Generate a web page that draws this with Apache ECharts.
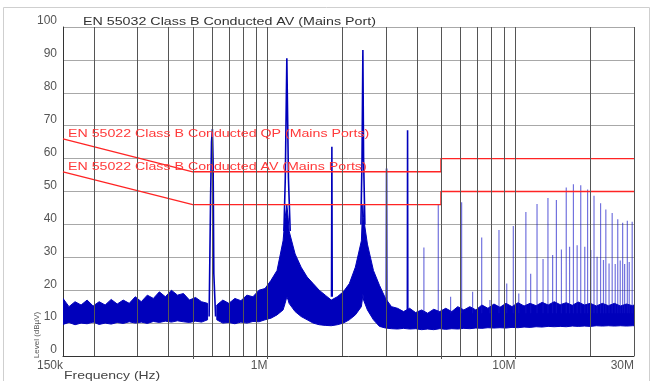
<!DOCTYPE html>
<html><head><meta charset="utf-8">
<script src="https://cdn.jsdelivr.net/npm/echarts@6/dist/echarts.min.js"></script>
<style>html,body{margin:0;padding:0;background:#fff}#c{width:656px;height:381px}</style>
</head><body><div id="c"></div>
<script>
// ---- tick labels ----
const xTickValues = [150000, 1000000, 10000000, 30000000];
const xTickTexts  = ['150k', '1M', '10M', '30M'];
const xMajorTicks = [500000, 1000000, 5000000, 10000000];
const gridFreqs = [200000,300000,400000,500000,600000,700000,800000,900000,1000000,
  2000000,3000000,4000000,5000000,6000000,7000000,8000000,9000000,10000000,20000000,30000000];

// ---- limit lines ----
const qpFreq  = [150000, 500000, 5000000, 5000000, 30000000];
const qpLevel = [66, 56, 56, 60, 60];
const avFreq  = [150000, 500000, 5000000, 5000000, 30000000];
const avLevel = [56, 46, 46, 50, 50];

// ---- noise floor envelope (Hz, dBuV) ----
const bandFreq1 = [150000,158600,167700,177400,187600,198400,209800,221800,234600,248100,262300,277400,
  293300,310200,328000,346900,366800,387900,410200,433800,458700,485100,513000,542500,573700];
const bandLow1  = [9.6,10.2,9.5,10,9.8,10.3,9.6,10,9.7,10.2,9.9,10.4,10,10.3,9.9,10.5,10.2,10.6,10.3,10.7,10.4,10.2,10.6,10.3,11];
const bandHigh1 = [17.5,15,16.5,15.5,17,15.2,16.5,15.5,17.2,15.8,17,16,18,16.5,18.5,17.5,19.5,18,20,18.5,19,17,17.8,16.5,16];
const bandFreq2 = [625000,660900,698900,739100,781600,826500,874000,924300,977400,1033600,1093000,1155900,
  1178000,1197000,1212000,
  1222300,1292600,1366900,1445500,1528600,1616500,1709500,1807800,1911700,2021600,2137900,2260800,2390800,
  2410000,2424000,2440000,
  2528300,2673700,2827400,2990000,3161900,3343700,3536000,3739300,3954300,4181700,4422100,4676400,4945300,
  5229700,5530400,5848400,6184700,6540300,6916400,7314100,7734600,8179400,8649700,9147100,9673000,10229200,
  10817400,11439400,12097100,12792700,13528300,14306200,15128800,15998700,16918600,17891500,18920200,20008100,
  21158600,22375200,23661800,25022400,26461200,27982700,29591700,30000000];
const bandLow2  = [11,10,10.2,9.8,10.3,10,10.5,10.4,11,11.5,12.5,14,
  16,18,17,
  16,13.5,12,11,10,9.5,9.3,9.2,9.5,10,11,12.5,15,
  17,19,17,
  14,11,9,8.5,8.3,8.2,8.4,8.2,8.3,8,8.2,8,8.3,
  8.1,8.3,8.2,8.4,8.3,8.5,8.4,8.6,8.5,8.6,8.5,8.7,8.6,
  8.8,8.7,8.9,8.8,9,8.9,9,8.9,9.1,9,9.1,9,
  9.2,9.1,9.2,9.1,9.2,9.1,9.2,9.2];
const bandHigh2 = [15.5,17,16,17.5,16.8,18.5,18,20,20.5,23,26,35,
  42,46,42,
  38,31,27,24,22,20,18.5,17,18,19.5,22,27,35,
  42,46,42,
  34,26,21.5,17.5,15,14.5,13.5,14.5,13.2,14,13,14.2,13.5,
  14.5,13.5,15,14,15,14,15.5,14.5,15.8,14.8,16,15,16.2,
  15.2,16,15.3,16.3,15.5,16.5,15.6,16.2,15.4,16.4,15.5,16,
  15.2,16,15.3,16,15.2,15.8,15.3,15.5];

// ---- strong emission peaks (shape points, null = break) ----
const peakShapeFreq  = [582000,590000,595000,600000,604000,608000,618000,618000,
  1165000,1180000,1197000,1215000,1235000,1235000,
  1812000,1818000,1824000,1824000,
  2380000,2405000,2424000,2440000,2470000,2470000,
  3012000,3020000,3028000,3028000,
  3662000,3670000,3678000];
const peakShapeLevel = [12,48,65,69,59,25,12,null,
  38,54,90.5,54,38,null,
  18,63.6,18,null,
  40,60,93,60,40,null,
  15,57,15,null,
  14,68.6,14];

// ---- harmonic spikes above 4 MHz ----
const spikeFreq = [4270000,4880000,5470000,6060000,6710000,7300000,7880000,8570000,9210000,9790000,
  10300000,11000000,11500000,12200000,12900000,13500000,14100000,14600000,15300000,16000000,
  16500000,17100000,17700000,18300000,19000000,19500000,20100000,20700000,21300000,22000000,
  22600000,23100000,23800000,24500000,25200000,25800000,26400000,27000000,27500000,28200000,
  28700000,29500000];
const spikeLevel = [33,46,18,46.7,19.5,36,17,38.3,22,39.5,
  19,43.8,25,46.2,29.5,48,30.7,47.4,32.4,51.2,
  33.2,52.2,33.7,51.9,33.2,50.6,32.2,48.7,30.2,46.4,
  29.2,44.5,28.1,43.5,28,41.6,29,40.5,28,41.1,
  28.6,40.8];
const spikeBase = 13;

const BLUE = '#0000bb';
const RED = '#ff2424';

function pairs(fs, vs) { return fs.map((f, i) => [f, vs[i]]); }
function spikeSegments() {
  const d = [];
  spikeFreq.forEach((f, i) => { d.push([f, spikeBase], [f, spikeLevel[i]], [f, null]); });
  return d;
}
const bands = [
  {freq: bandFreq1, low: bandLow1, high: bandHigh1},
  {freq: bandFreq2, low: bandLow2, high: bandHigh2}
];

const chart = echarts.init(document.getElementById('c'));
const labelFont = 'Liberation Sans, Arial, sans-serif';
chart.setOption({
  animation: false,
  grid: {left: 63, right: 22, top: 27, bottom: 25},
  xAxis: {
    type: 'log', logBase: 10, min: 150000, max: 30000000,
    splitLine: {show: false},
    axisLine: {show: true, lineStyle: {color: '#333', width: 1}},
    axisTick: {show: true, length: 3, customValues: xMajorTicks, lineStyle: {color: '#555'}},
    axisLabel: {
      customValues: xTickValues,
      align: 'right', margin: 4, color: '#555', fontSize: 12, fontFamily: labelFont,
      formatter: function (v) {
        let best = 0;
        xTickValues.forEach((t, i) => { if (Math.abs(Math.log(t) - Math.log(v)) < Math.abs(Math.log(xTickValues[best]) - Math.log(v))) best = i; });
        return xTickTexts[best];
      }
    }
  },
  yAxis: {
    type: 'value', min: 0, max: 100, interval: 10,
    axisLine: {show: true, lineStyle: {color: '#333'}},
    axisTick: {show: false},
    splitLine: {show: true, lineStyle: {color: '#a8a8a8', width: 1}},
    axisLabel: {showMinLabel: true, showMaxLabel: true, hideOverlap: false, verticalAlign: 'bottom', margin: 6, color: '#555', fontSize: 12, fontFamily: labelFont}
  },
  graphic: [
    {type: 'rect', shape: {x: 3.5, y: 7.5, width: 646, height: 380}, style: {fill: 'none', stroke: '#cfcfcf', lineWidth: 1}, z: -1, silent: true},
    {type: 'text', x: 83, y: 22, scaleX: 1.296, style: {text: 'EN 55032 Class B Conducted AV (Mains Port)', fill: '#333', font: '11px "Liberation Sans", Arial', textAlign: 'left', textVerticalAlign: 'middle'}, z: 10},
    {type: 'text', x: 68, y: 134, scaleX: 1.29, style: {text: 'EN 55022 Class B Conducted QP (Mains Ports)', fill: '#ff3a3a', font: '11px "Liberation Sans", Arial', textAlign: 'left', textVerticalAlign: 'middle'}, z: 10},
    {type: 'text', x: 68, y: 167, scaleX: 1.29, style: {text: 'EN 55022 Class B Conducted AV (Mains Ports)', fill: '#ff3a3a', font: '11px "Liberation Sans", Arial', textAlign: 'left', textVerticalAlign: 'middle'}, z: 10},
    {type: 'text', x: 64, y: 376, scaleX: 1.27, style: {text: 'Frequency (Hz)', fill: '#444', font: '11px "Liberation Sans", Arial', textAlign: 'left', textVerticalAlign: 'middle'}, z: 10},
    {type: 'text', x: 37, y: 335, rotation: Math.PI / 2, style: {text: 'Level (dBµV)', fill: '#555', font: '8px "Liberation Sans", Arial', textAlign: 'center', textVerticalAlign: 'middle'}, z: 10}
  ],
  series: [
    {
      type: 'line', data: [[150000, 0]], symbol: 'none', lineStyle: {opacity: 0}, z: 1, silent: true,
      markLine: {
        silent: true, symbol: 'none', label: {show: false}, animation: false,
        lineStyle: {color: '#555', width: 1, type: 'solid'},
        data: gridFreqs.map(f => ({xAxis: f}))
      }
    },
    {
      type: 'custom', coordinateSystem: 'cartesian2d', z: 2, silent: true, clip: true,
      data: bands.map((b, i) => [b.freq[0], b.low[0], i]),
      encode: {x: 0, y: 1},
      renderItem: function (params, api) {
        const b = bands[api.value(2)];
        const pts = [];
        b.freq.forEach((f, j) => pts.push(api.coord([f, b.high[j]])));
        for (let j = b.freq.length - 1; j >= 0; j--) pts.push(api.coord([b.freq[j], b.low[j]]));
        return {type: 'polygon', shape: {points: pts}, style: {fill: BLUE, stroke: BLUE, lineWidth: 1}};
      }
    },
    {
      type: 'line', data: spikeSegments(), symbol: 'none', connectNulls: false, z: 3, silent: true,
      lineStyle: {color: 'rgba(20,20,200,0.6)', width: 1.2}
    },
    {
      type: 'line', data: pairs(peakShapeFreq, peakShapeLevel), symbol: 'none', connectNulls: false, z: 3, silent: true,
      lineStyle: {color: BLUE, width: 1.6}
    },
    {type: 'line', data: pairs(qpFreq, qpLevel), symbol: 'none', z: 4, silent: true, lineStyle: {color: RED, width: 1.3}},
    {type: 'line', data: pairs(avFreq, avLevel), symbol: 'none', z: 4, silent: true, lineStyle: {color: RED, width: 1.3}}
  ]
});
</script>
</body></html>
